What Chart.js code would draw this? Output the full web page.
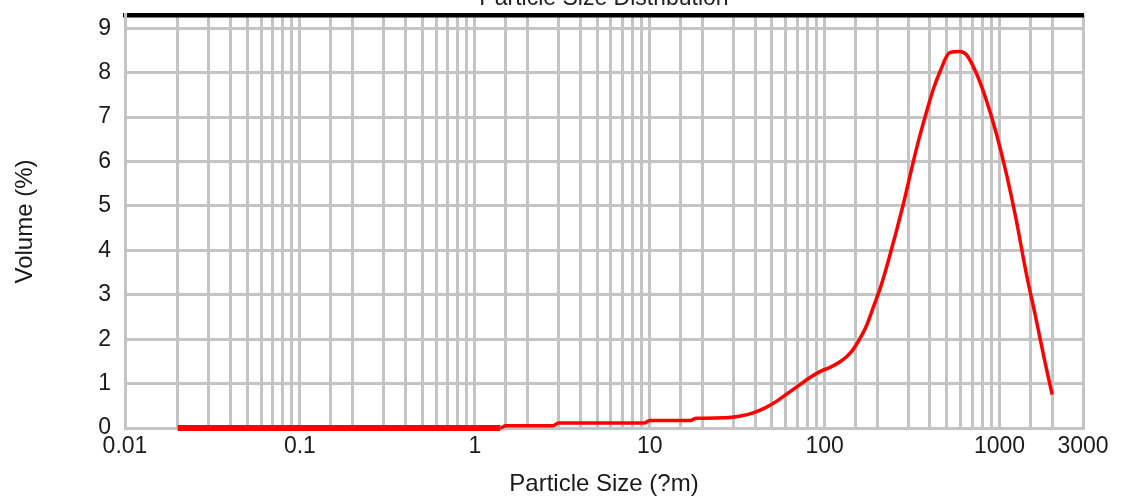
<!DOCTYPE html>
<html lang="en">
<head>
    <meta charset="UTF-8">
    <title>Particle Size Distribution</title>
    <script src="https://cdn.jsdelivr.net/npm/chart.js"></script>
    <style>
        body {
            margin: 0;
            padding: 0;
            background: white;
            overflow: hidden;
            width: 1121px;
            height: 499px;
            position: relative;
        }
        /* the title sits mostly above the top edge, like in the scanned page */
        .chart-box {
            position: absolute;
            left: 0;
            top: -16px;
            width: 1121px;
            height: 515px;
        }
    </style>
</head>
<body>
    <div class="chart-box">
        <canvas id="psdChart"></canvas>
    </div>

    <script>
        // particle size (µm) and volume (%)
        const sizes = [0.02, 1.4, 1.5, 2.8, 3.0, 9.3, 10, 17, 18.5, 27, 33, 39, 46, 53, 62, 72, 82, 94,
            108, 120, 133, 145, 158, 173, 189, 210, 235, 280, 334, 381, 420, 454, 518, 590, 645, 735,
            839, 957, 1092, 1245, 1420, 1620, 1806, 2000];
        const volumes = [0, 0, 0.05, 0.05, 0.11, 0.11, 0.17, 0.17, 0.22, 0.23, 0.27, 0.34, 0.46, 0.6, 0.79, 0.97, 1.13, 1.27,
            1.37, 1.47, 1.6, 1.76, 1.99, 2.29, 2.7, 3.2, 3.86, 5.0, 6.27, 7.1, 7.65, 8.0, 8.45, 8.48, 8.41, 8.0,
            7.39, 6.64, 5.74, 4.69, 3.49, 2.44, 1.54, 0.75];
        const xTickLabels = ['0.01', '0.1', '1', '10', '100', '1000', '3000'];

        const gridGray = '#c4c4c4';
        const textColor = '#1a1a1a';
        const fontFamily = "'Liberation Sans', Arial, sans-serif";

        const points = sizes.map((s, i) => ({ x: s, y: volumes[i] }));

        const ctx = document.getElementById('psdChart').getContext('2d');

        new Chart(ctx, {
            type: 'line',
            data: {
                datasets: [{
                    label: 'Volume',
                    data: points,
                    borderColor: '#ff0000',
                    borderWidth: 3.5,
                    pointRadius: 0,
                    fill: false,
                    cubicInterpolationMode: 'monotone',
                    clip: 8,
                    segment: {
                        // the flat part on the axis looks heavier in the original
                        borderWidth: c => (c.p0.parsed.y === 0 && c.p1.parsed.y === 0) ? 6 : 3.5
                    }
                }]
            },
            options: {
                responsive: true,
                maintainAspectRatio: false,
                animation: false,
                layout: {
                    padding: { left: 0, right: 38, top: 0, bottom: 0 }
                },
                plugins: {
                    legend: { display: false },
                    tooltip: { enabled: false },
                    title: {
                        display: true,
                        fullSize: false, // centre over the plot, not the whole canvas
                        text: 'Particle Size Distribution',
                        color: '#222',
                        font: { family: fontFamily, size: 23, weight: 'normal' },
                        padding: { top: 1, bottom: 2.4 }
                    }
                },
                scales: {
                    x: {
                        type: 'logarithmic',
                        position: 'bottom',
                        min: 0.01,
                        max: 3000,
                        grid: { color: gridGray, lineWidth: 3, drawTicks: false },
                        border: { color: gridGray, width: 3 },
                        ticks: {
                            color: textColor,
                            font: { family: fontFamily, size: 23 },
                            padding: 5,
                            maxRotation: 0,
                            autoSkip: false,
                            callback: value => {
                                const hit = xTickLabels.find(l => Math.abs(Number(l) - value) < Number(l) * 1e-6);
                                return hit || '';
                            }
                        },
                        title: {
                            display: true,
                            text: 'Particle Size (?m)',
                            color: textColor,
                            font: { family: fontFamily, size: 24 },
                            padding: { top: 0, bottom: 0 }
                        },
                        afterFit: scale => { scale.height = 71; }
                    },
                    xTop: {
                        type: 'logarithmic',
                        position: 'top',
                        min: 0.01,
                        max: 3000,
                        grid: { display: false },
                        ticks: { display: false },
                        border: { color: '#000', width: 4.5 },
                        afterFit: scale => { scale.height = 0; }
                    },
                    y: {
                        type: 'linear',
                        min: 0,
                        max: 9.3,
                        grid: { color: gridGray, lineWidth: 3, drawTicks: false },
                        border: { color: gridGray, width: 3 },
                        ticks: {
                            stepSize: 1,
                            includeBounds: false,
                            color: textColor,
                            font: { family: fontFamily, size: 23 },
                            padding: 14
                        },
                        title: {
                            display: true,
                            text: 'Volume (%)',
                            color: textColor,
                            font: { family: fontFamily, size: 24 },
                            padding: { top: 11, bottom: 0 }
                        },
                        afterFit: scale => { scale.width = 125; }
                    }
                }
            }
        });
    </script>
</body>
</html>
